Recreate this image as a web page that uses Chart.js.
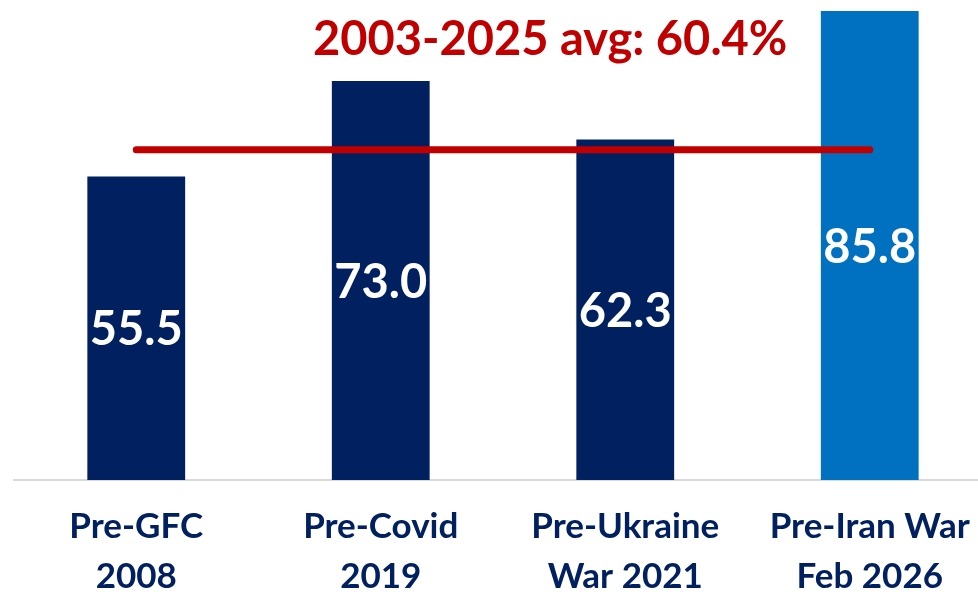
<!DOCTYPE html>
<html>
<head>
<meta charset="utf-8">
<script src="https://cdn.jsdelivr.net/npm/chart.js@4"></script>
<style>
  html, body { margin: 0; padding: 0; background: #fff; overflow: hidden; }
  #wrap { position: relative; width: 992px; height: 595px; }
  #avgTitle {
    position: absolute; left: 313px; top: 9px;
    font: bold 47px Lato, sans-serif; color: #C00000; white-space: nowrap;
  }
</style>
</head>
<body>
<div id="wrap">
  <canvas id="chart" width="992" height="595"></canvas>
  <div id="avgTitle">2003-2025 avg: 60.4%</div>
</div>
<script>
const categories = [['Pre-GFC', '2008'], ['Pre-Covid', '2019'], ['Pre-Ukraine', 'War 2021'], ['Pre-Iran War', 'Feb 2026']];
const values = [55.5, 73.0, 62.3, 85.8];
const average = 60.4;
const barColors = ['#002060', '#002060', '#002060', '#0070C0'];

// white number in the middle of each bar (bars are dataset 1)
const barLabels = {
    id: 'barLabels',
    afterDatasetsDraw(chart) {
        const ctx = chart.ctx;
        const meta = chart.getDatasetMeta(1);
        ctx.save();
        ctx.fillStyle = '#fff';
        ctx.font = 'bold 47px Lato';
        ctx.textAlign = 'center';
        ctx.textBaseline = 'middle';
        meta.data.forEach((bar, i) => {
            const mid = (bar.y + bar.base) / 2;
            ctx.fillText(values[i].toFixed(1), bar.x, mid + 2);
        });
        ctx.restore();
    }
};

new Chart(document.getElementById('chart'), {
    data: {
        labels: categories,
        datasets: [{
            type: 'line',
            data: values.map(() => average),
            borderColor: '#C00000',
            borderWidth: 7,
            borderCapStyle: 'round',
            pointRadius: 0,
            order: 0
        }, {
            type: 'bar',
            data: values,
            backgroundColor: barColors,
            barPercentage: 0.4,
            categoryPercentage: 1,
            order: 1
        }]
    },
    options: {
        responsive: false,
        animation: false,
        layout: { padding: { left: 14, top: 0, right: 0, bottom: 0 } },
        plugins: { legend: { display: false }, tooltip: { enabled: false } },
        scales: {
            x: {
                grid: { display: false, drawTicks: false },
                border: { display: true, color: '#D9D9D9', width: 2 },
                ticks: {
                    color: '#002060',
                    padding: 22,
                    font: { family: 'Lato', weight: 'bold', size: 35, lineHeight: 1.43 }
                },
                afterFit(scale) { scale.height = 115; }
            },
            y: {
                display: false,
                min: 0,
                max: 87.8
            }
        }
    },
    plugins: [barLabels]
});
</script>
</body>
</html>
